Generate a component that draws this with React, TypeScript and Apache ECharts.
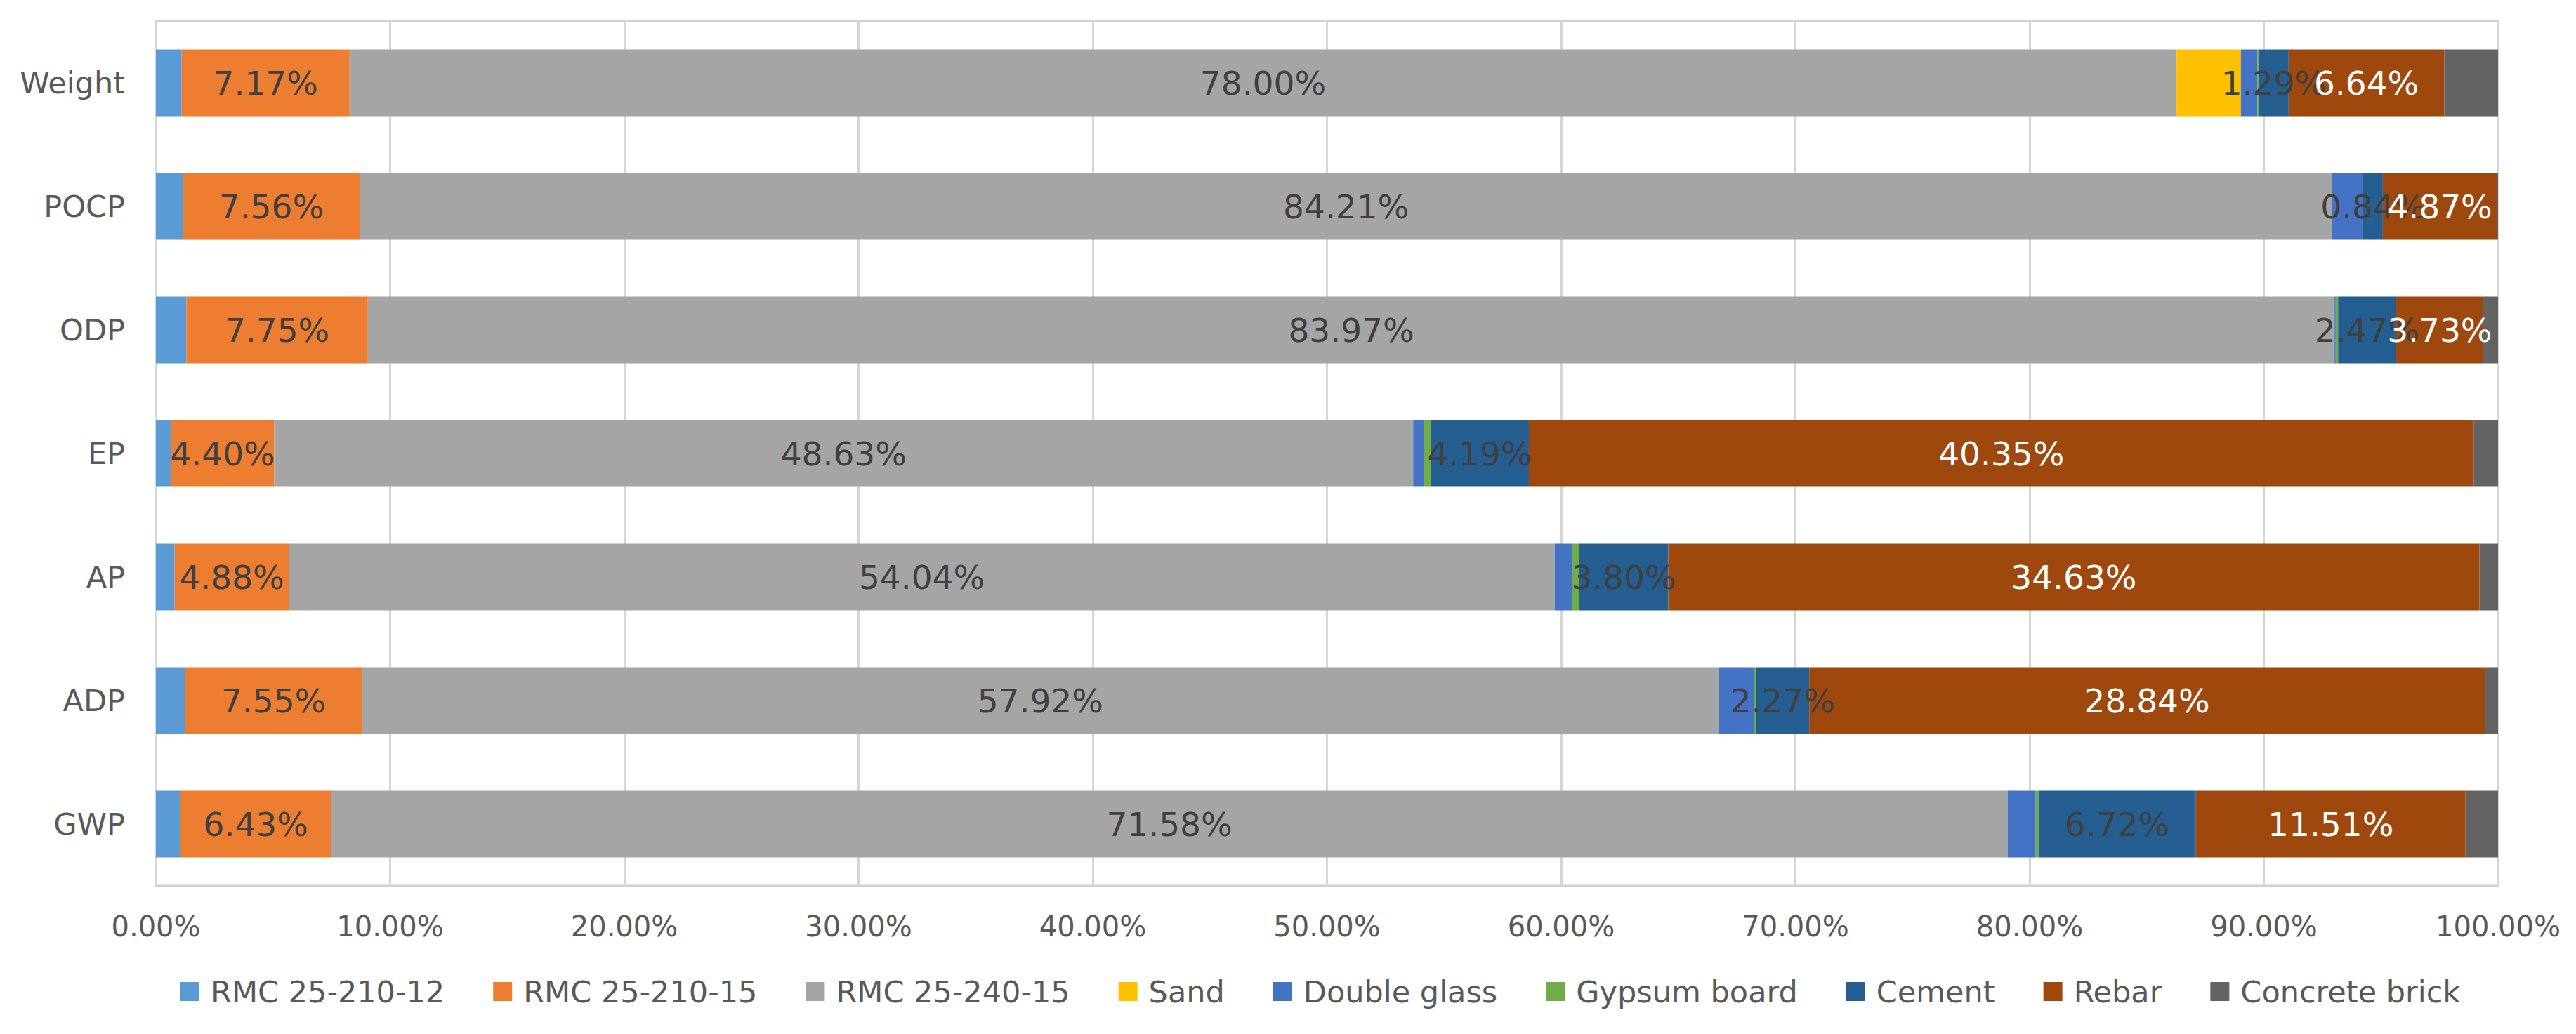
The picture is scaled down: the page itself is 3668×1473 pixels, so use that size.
import React, { useEffect, useRef } from "react";
import * as echarts from "echarts";

const categories = ["GWP", "ADP", "AP", "EP", "ODP", "POCP", "Weight"];
const seriesNames = [
  "RMC 25-210-12",
  "RMC 25-210-15",
  "RMC 25-240-15",
  "Sand",
  "Double glass",
  "Gypsum board",
  "Cement",
  "Rebar",
  "Concrete brick",
];
const rmc12 = [1.05, 1.25, 0.8, 0.65, 1.3, 1.15, 1.1];
const rmc15 = [6.43, 7.55, 4.88, 4.4, 7.75, 7.56, 7.17];
const rmc240 = [71.58, 57.92, 54.04, 48.63, 83.97, 84.21, 78.0];
const sand = [0, 0, 0, 0, 0, 0, 2.75];
const doubleGlass = [1.2, 1.5, 0.75, 0.45, 0.05, 1.3, 0.7];
const gypsum = [0.12, 0.1, 0.3, 0.3, 0.1, 0.02, 0.05];
const cement = [6.72, 2.27, 3.8, 4.19, 2.47, 0.84, 1.29];
const rebar = [11.51, 28.84, 34.63, 40.35, 3.73, 4.87, 6.64];
const brick = [1.39, 0.57, 0.8, 1.03, 0.63, 0.05, 2.3];
const xTicks = [0, 10, 20, 30, 40, 50, 60, 70, 80, 90, 100];

const seriesData = [rmc12, rmc15, rmc240, sand, doubleGlass, gypsum, cement, rebar, brick];
const colors = ["#5B9BD5", "#ED7D31", "#A5A5A5", "#FFC000", "#4472C4", "#70AD47", "#255E91", "#9E480E", "#636363"];
const labeled = [false, true, true, false, false, false, true, true, false];
const labelColors = ["#404040", "#404040", "#404040", "#404040", "#404040", "#404040", "#404040", "#ffffff", "#404040"];

const FONT = "DejaVu Sans";

export default function App() {
  const ref = useRef<HTMLDivElement>(null);
  useEffect(() => {
    if (!ref.current) return;
    const chart = echarts.init(ref.current, undefined, { renderer: "svg" });
    chart.setOption({
      animation: false,
      backgroundColor: "#ffffff",
      color: colors,
      grid: {
        left: 214,
        right: 103,
        top: 22,
        bottom: 203,
        show: true,
        borderColor: "#d0d0d0",
        borderWidth: 3,
      },
      legend: {
        top: 1378,
        left: 244,
        itemWidth: 27,
        itemHeight: 27,
        itemGap: 69,
        icon: "rect",
        textStyle: { fontFamily: FONT, fontSize: 43, color: "#595959", padding: [0, 0, 0, 11] },
        data: seriesNames,
      },
      xAxis: {
        type: "value",
        min: xTicks[0],
        max: xTicks[xTicks.length - 1],
        interval: 10,
        axisLine: { show: false },
        axisTick: { show: false },
        splitLine: { show: true, lineStyle: { color: "#d6d6d6", width: 3 } },
        axisLabel: {
          margin: 38,
          fontFamily: FONT,
          fontSize: 40,
          color: "#595959",
          formatter: (v: number) => v.toFixed(2) + "%",
        },
      },
      yAxis: {
        type: "category",
        data: categories,
        axisLine: { show: false },
        axisTick: { show: false },
        axisLabel: { margin: 44, fontFamily: FONT, fontSize: 43, color: "#595959" },
      },
      series: seriesNames.map((name, i) => ({
        name,
        type: "bar",
        stack: "total",
        barCategoryGap: "46%",
        data: seriesData[i],
        itemStyle: { color: colors[i] },
        label: {
          show: labeled[i],
          position: "inside",
          fontFamily: FONT,
          fontSize: 47,
          color: labelColors[i],
          formatter: (p: any) => Number(p.value).toFixed(2) + "%",
        },
      })),
    });
    return () => chart.dispose();
  }, []);
  return <div ref={ref} style={{ width: 3652, height: 1457 }} />;
}
